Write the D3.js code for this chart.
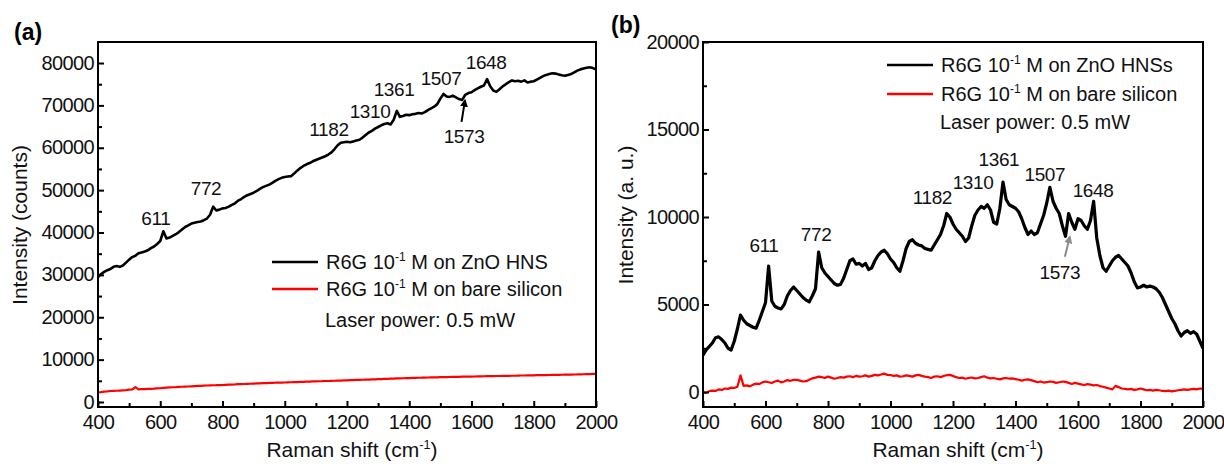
<!DOCTYPE html>
<html>
<head>
<meta charset="utf-8">
<script src="https://cdn.jsdelivr.net/npm/d3@7"></script>
<style>
  body { margin: 0; background: #fff; }
  svg { font-family: Arial, "Liberation Sans", sans-serif; }
</style>
</head>
<body>
<div class="chart"></div>
<script>
// Raman shift grid (cm-1), one reading every 10 cm-1
const ramanShift = d3.range(400, 2001, 10);

// (a) R6G 10-1 M on ZnO HNS, counts
const hnsCountsA = [
  29500, 30200, 30700, 31100, 31400, 31900, 32100, 31900, 32200, 32900,
  33600, 34200, 34500, 35100, 35300, 35500, 35800, 36300, 36700, 37300,
  38000, 40300, 38600, 38800, 39200, 39600, 40100, 40700, 41300, 41700,
  42100, 42300, 42500, 42600, 42900, 43300, 44200, 46100, 45200, 45400,
  45700, 45800, 46100, 46500, 46900, 47500, 47900, 48400, 48800, 49100,
  49400, 49800, 50300, 50700, 51000, 51300, 51700, 52200, 52600, 52900,
  53100, 53200, 53300, 53900, 54600, 55200, 55700, 56100, 56400, 56800,
  57100, 57400, 57700, 58000, 58400, 58900, 59700, 60600, 61200, 61300,
  61400, 61300, 61500, 61700, 61900, 62400, 63000, 63600, 64000, 64500,
  64900, 65300, 65600, 65800, 65500, 66600, 68700, 67300, 67500, 67800,
  67700, 67900, 68000, 68200, 68100, 68400, 68900, 69300, 69700, 70300,
  71600, 72700, 72100, 72000, 72300, 71900, 71500, 71300, 72500, 72900,
  73100, 73600, 74000, 74400, 74700, 76200, 74500, 73500, 73200, 73800,
  74500, 75000, 75500, 75900, 75700, 75800, 75600, 75900, 75400, 75600,
  75700, 76100, 76500, 76900, 77200, 77400, 77600, 77500, 77300, 77100,
  77000, 77200, 77400, 77800, 78200, 78500, 78700, 78900, 79000, 78800,
  78500
];

// (a) R6G 10-1 M on bare silicon, counts
const siliconCountsA = [
  2300, 2350, 2450, 2500, 2600, 2620, 2650, 2700, 2760, 2800,
  2900, 2950, 3500, 3000, 3020, 3050, 3100, 3120, 3150, 3200,
  3250, 3350, 3400, 3450, 3480, 3500, 3550, 3600, 3650, 3660,
  3700, 3750, 3800, 3810, 3850, 3900, 3920, 3950, 3960, 4000,
  4010, 4050, 4100, 4120, 4150, 4200, 4210, 4250, 4300, 4310,
  4350, 4400, 4410, 4450, 4460, 4500, 4520, 4550, 4600, 4560,
  4600, 4650, 4660, 4700, 4710, 4750, 4760, 4800, 4810, 4850,
  4860, 4900, 4910, 4950, 4960, 5000, 5010, 5050, 5060, 5100,
  5100, 5150, 5160, 5200, 5210, 5250, 5280, 5300, 5320, 5350,
  5380, 5400, 5450, 5470, 5500, 5530, 5560, 5580, 5600, 5620,
  5650, 5680, 5700, 5720, 5730, 5760, 5780, 5790, 5800, 5830,
  5850, 5860, 5880, 5900, 5920, 5940, 5950, 5970, 5980, 5990,
  6000, 6020, 6030, 6050, 6080, 6090, 6100, 6120, 6130, 6140,
  6150, 6170, 6180, 6190, 6200, 6230, 6250, 6260, 6280, 6290,
  6300, 6320, 6330, 6340, 6350, 6370, 6380, 6400, 6420, 6430,
  6450, 6470, 6480, 6490, 6500, 6530, 6550, 6570, 6600, 6620,
  6650
];

// (b) R6G 10-1 M on ZnO HNSs, a.u.
const hnsIntensityB = [
  2100, 2400, 2600, 2800, 3100, 3150, 3000, 2800, 2500, 2400,
  2900, 3600, 4400, 4100, 3900, 3800, 3700, 3650, 4100, 4600,
  5100, 7200, 5200, 4900, 4800, 4750, 5000, 5500, 5800, 6000,
  5800, 5600, 5400, 5250, 5150, 5500, 5900, 8000, 7100, 6800,
  6600, 6400, 6200, 6100, 6150, 6500, 7000, 7500, 7600, 7300,
  7350, 7200, 7350, 7000, 7100, 7500, 7800, 8000, 8100, 7900,
  7600, 7400, 7100, 6900, 7500, 8200, 8600, 8700, 8500, 8400,
  8350, 8200, 8150, 8100, 8400, 8700, 9000, 9500, 10200, 10000,
  9600, 9300, 9100, 8900, 8600, 8800, 9500, 10100, 10400, 10600,
  10500, 10700, 10400, 9700, 9600, 10500, 12000, 11000, 10700, 10600,
  10500, 10300, 9900, 9400, 9000, 9200, 9000, 9100, 9600, 10100,
  10800, 11700, 10900, 10500, 10200, 9500, 8900, 10200, 9700, 9300,
  9900, 9800, 9500, 9300, 9800, 10900, 8800, 7800, 7100, 6900,
  7200, 7500, 7700, 7800, 7600, 7400, 7200, 6800, 6300, 5950,
  6000, 6100, 6000, 6050, 6000, 5900, 5700, 5400, 5000, 4600,
  4200, 3900, 3500, 3200, 3400, 3500, 3350, 3450, 3300, 2900,
  2500
];

// (b) R6G 10-1 M on bare silicon, a.u.
const siliconIntensityB = [
  0, -50, 50, 80, 60, 150, 120, 200, 180, 250,
  230, 300, 950, 350, 380, 320, 420, 480, 450, 550,
  600, 560, 520, 600, 650, 550, 600, 680, 640, 700,
  690, 650, 600, 620, 700, 780, 820, 880, 850, 800,
  880, 820, 760, 800, 850, 820, 880, 900, 850, 920,
  880, 900, 950, 880, 920, 980, 950, 1000, 1050, 980,
  970, 920, 950, 880, 900, 950, 920, 880, 950, 980,
  920, 880, 850, 800, 880, 900, 850, 920, 960, 980,
  920, 850, 800, 820, 760, 800, 830, 780, 800, 850,
  900, 820, 780, 800, 760, 720, 780, 800, 760, 780,
  740, 700, 650, 700, 720, 680, 620, 560, 600, 540,
  560, 600, 580, 520, 560, 600, 580, 520, 460, 520,
  480, 440, 400, 450, 420, 380, 400, 340, 300, 250,
  200, 150, 350, 280, 200, 180, 150, 180, 120, 150,
  200, 150, 100, 120, 80, 120, 100, 60, 50, 80,
  40, 60, 100, 120, 150, 120, 150, 180, 150, 200,
  180
];

const xTicks = [400, 600, 800, 1000, 1200, 1400, 1600, 1800, 2000];
const xMinorTicks = [500, 700, 900, 1100, 1300, 1500, 1700, 1900];
const yTicksA = [0, 10000, 20000, 30000, 40000, 50000, 60000, 70000, 80000];
const yMinorTicksA = [5000, 15000, 25000, 35000, 45000, 55000, 65000, 75000];
const yTicksB = [0, 5000, 10000, 15000, 20000];
const yMinorTicksB = [2500, 7500, 12500, 17500];

// peak labels: text, label centre (Raman shift, intensity)
const peakNames = ["611", "772", "1182", "1310", "1361", "1507", "1648", "1573"];
const peakLabelXA = [586, 747, 1142, 1274, 1351, 1502, 1647, 1576];
const peakLabelYA = [43400, 50500, 64500, 68600, 73800, 76400, 80200, 62700];
const peakLabelXB = [595, 762, 1134, 1264, 1347, 1494, 1648, 1542];
const peakLabelYB = [8400, 9030, 11160, 11970, 13310, 12460, 11510, 6870];
// arrow pointing at the 1573 shoulder: [from, to]
const arrowA = [[1568, 66100], [1579, 71200]];
const arrowB = [[1558, 7730], [1574, 8870]];

const W = 1224, H = 464;
const plotTop = 42, plotBottom = 407;

const svg = d3.select(".chart").append("svg")
  .attr("width", W).attr("height", H);

const defs = svg.append("defs");
[["arrowBlack", "#000"], ["arrowGray", "#8c8c8c"]].forEach(([id, c]) => {
  defs.append("marker")
    .attr("id", id)
    .attr("viewBox", "0 0 10 10")
    .attr("refX", 8).attr("refY", 5)
    .attr("markerWidth", 4).attr("markerHeight", 4)
    .attr("orient", "auto")
    .append("path")
    .attr("d", "M0,0 L10,5 L0,10 Z")
    .attr("fill", c);
});

function supText(sel, before, sup, after, size) {
  sel.append("tspan").text(before);
  sel.append("tspan").attr("font-size", size * 0.6).attr("dy", -size * 0.38).text(sup);
  sel.append("tspan").attr("dy", size * 0.38).text(after);
}

function drawPanel(p) {
  const xScale = d3.scaleLinear().domain([400, 2000]).range([p.left, p.right]);
  const yScale = d3.scaleLinear().domain(p.yDomain).range([plotBottom, plotTop]);

  const g = svg.append("g");

  defs.append("clipPath").attr("id", p.id + "clip")
    .append("rect")
    .attr("x", p.left).attr("y", plotTop)
    .attr("width", p.right - p.left).attr("height", plotBottom - plotTop);

  const line = values => d3.line()
    .x((d, i) => xScale(ramanShift[i]))
    .y(d => yScale(d))(values);

  const plot = g.append("g").attr("clip-path", `url(#${p.id}clip)`);
  plot.append("path")
    .attr("d", line(p.red))
    .attr("fill", "none")
    .attr("stroke", "#ff0000")
    .attr("stroke-width", 2.2)
    .attr("stroke-linejoin", "round");
  plot.append("path")
    .attr("d", line(p.black))
    .attr("fill", "none")
    .attr("stroke", "#000")
    .attr("stroke-width", p.blackWidth)
    .attr("stroke-linejoin", "round");

  // axes, ticks inward
  const xAxis = g.append("g")
    .attr("transform", `translate(0,${plotBottom})`)
    .call(d3.axisBottom(xScale).tickValues(xTicks).tickSize(-6).tickPadding(8).tickFormat(d3.format("d")));
  g.append("g")
    .attr("transform", `translate(0,${plotBottom})`)
    .call(d3.axisBottom(xScale).tickValues(xMinorTicks).tickSize(-4).tickFormat(""));
  const yAxis = g.append("g")
    .attr("transform", `translate(${p.left},0)`)
    .call(d3.axisLeft(yScale).tickValues(p.yTicks).tickSize(-6).tickPadding(4).tickFormat(d3.format("d")));
  g.append("g")
    .attr("transform", `translate(${p.left},0)`)
    .call(d3.axisLeft(yScale).tickValues(p.yMinor).tickSize(-4).tickFormat(""));

  g.selectAll(".domain").remove();
  g.selectAll(".tick line").attr("stroke", "#000").attr("stroke-width", 2);
  [xAxis, yAxis].forEach(a => a.selectAll("text")
    .attr("font-family", "Arial, 'Liberation Sans', sans-serif")
    .attr("font-size", 20)
    .attr("letter-spacing", -0.6)
    .attr("fill", "#111"));
  yAxis.selectAll("text").attr("dy", "0.3em");

  // frame
  g.append("rect")
    .attr("x", p.left).attr("y", plotTop)
    .attr("width", p.right - p.left).attr("height", plotBottom - plotTop)
    .attr("fill", "none")
    .attr("stroke", "#000")
    .attr("stroke-width", 2);

  // axis titles
  const xt = g.append("text")
    .attr("x", (p.left + p.right) / 2 + 5)
    .attr("y", 457)
    .attr("text-anchor", "middle")
    .attr("font-size", 21)
    .attr("fill", "#111");
  supText(xt, "Raman shift (cm", "-1", ")", 21);

  g.append("text")
    .attr("transform", `translate(${p.yTitleX},${p.yTitleY}) rotate(-90)`)
    .attr("text-anchor", "middle")
    .attr("font-size", 21)
    .attr("fill", "#111")
    .text(p.yTitle);

  // panel tag
  g.append("text")
    .attr("x", p.tagX).attr("y", p.tagY)
    .attr("font-size", 23)
    .attr("font-weight", "bold")
    .text(p.tag);

  // legend
  const leg = g.append("g");
  [["#000", p.legendNames[0]], ["#ff0000", p.legendNames[1]]].forEach(([c, name], i) => {
    const yy = p.legendY + i * p.legendStep;
    leg.append("line")
      .attr("x1", p.legendX).attr("x2", p.legendX + 46)
      .attr("y1", yy).attr("y2", yy)
      .attr("stroke", c).attr("stroke-width", 2.5);
    const t = leg.append("text")
      .attr("x", p.legendX + 54).attr("y", yy + 7)
      .attr("font-size", 20)
      .attr("fill", "#111");
    supText(t, "R6G 10", "-1", name, 20);
  });
  leg.append("text")
    .attr("x", p.laserX).attr("y", p.laserY + 7)
    .attr("font-size", 20)
    .attr("fill", "#111")
    .text("Laser power: 0.5 mW");

  // peak labels
  g.selectAll(".peak")
    .data(peakNames)
    .enter()
    .append("text")
    .attr("class", "peak")
    .attr("x", (d, i) => xScale(p.peakX[i]))
    .attr("y", (d, i) => yScale(p.peakY[i]))
    .attr("dy", "0.36em")
    .attr("text-anchor", "middle")
    .attr("font-size", 19)
    .attr("letter-spacing", -0.4)
    .attr("fill", "#111")
    .text(d => d);

  g.append("line")
    .attr("x1", xScale(p.arrow[0][0])).attr("y1", yScale(p.arrow[0][1]))
    .attr("x2", xScale(p.arrow[1][0])).attr("y2", yScale(p.arrow[1][1]))
    .attr("stroke", p.arrowColor)
    .attr("stroke-width", 2)
    .attr("marker-end", `url(#${p.arrowMarker})`);
}

drawPanel({
  id: "a", left: 98, right: 596, yDomain: [-1180, 84960],
  yTicks: yTicksA, yMinor: yMinorTicksA,
  black: hnsCountsA, red: siliconCountsA, blackWidth: 2.6,
  yTitle: "Intensity (counts)", yTitleX: 27, yTitleY: 225,
  tag: "(a)", tagX: 14, tagY: 40,
  legendNames: [" M on ZnO HNS", " M on bare silicon"],
  legendX: 272, legendY: 262, legendStep: 27, laserX: 325, laserY: 320,
  peakX: peakLabelXA, peakY: peakLabelYA,
  arrow: arrowA, arrowColor: "#000", arrowMarker: "arrowBlack"
});

drawPanel({
  id: "b", left: 703, right: 1203, yDomain: [-857, 20000],
  yTicks: yTicksB, yMinor: yMinorTicksB,
  black: hnsIntensityB, red: siliconIntensityB, blackWidth: 3.2,
  yTitle: "Intensity (a. u.)", yTitleX: 633, yTitleY: 215,
  tag: "(b)", tagX: 611, tagY: 33,
  legendNames: [" M on ZnO HNSs", " M on bare silicon"],
  legendX: 887, legendY: 65, legendStep: 29, laserX: 940, laserY: 122,
  peakX: peakLabelXB, peakY: peakLabelYB,
  arrow: arrowB, arrowColor: "#8c8c8c", arrowMarker: "arrowGray"
});
</script>
</body>
</html>
